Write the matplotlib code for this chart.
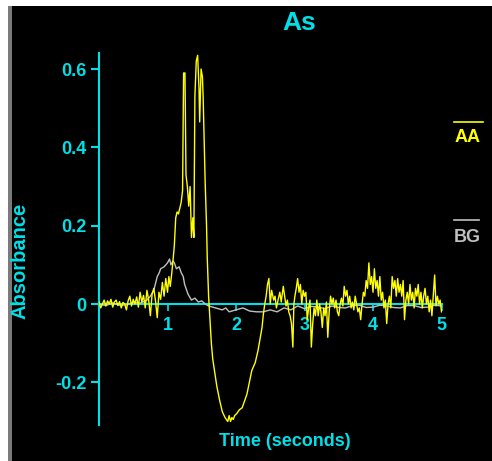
import matplotlib
matplotlib.use('Agg')
import matplotlib.pyplot as plt
from matplotlib.patches import Rectangle
from matplotlib.lines import Line2D

plt.rcParams['font.family'] = ['Liberation Sans', 'DejaVu Sans']

CYAN = '#00e0e8'
YELLOW = '#ffff00'
GRAY = '#c0c0c0'

# AA trace (time in seconds, absorbance)
aa_t = [0.00, 0.025, 0.05, 0.075, 0.10, 0.125, 0.15, 0.175, 0.20, 0.225,
        0.25, 0.275, 0.30, 0.325, 0.35, 0.375, 0.40, 0.425, 0.45, 0.475,
        0.50, 0.525, 0.55, 0.575, 0.60, 0.625, 0.65, 0.675, 0.70, 0.725,
        0.75, 0.775, 0.80, 0.825, 0.85, 0.875, 0.90, 0.925, 0.95, 0.975,
        1.00, 1.02, 1.04, 1.06, 1.08, 1.10, 1.12, 1.14, 1.16, 1.18,
        1.20, 1.22, 1.235, 1.255, 1.27, 1.29, 1.31, 1.33, 1.35, 1.37,
        1.385, 1.40, 1.42, 1.44, 1.46, 1.47, 1.49, 1.51, 1.52, 1.54,
        1.55, 1.57, 1.58, 1.60, 1.62, 1.64, 1.66, 1.69, 1.72, 1.76,
        1.80, 1.84, 1.86, 1.88, 1.90, 1.92, 1.94, 1.96, 1.98, 2.01,
        2.05, 2.09, 2.13, 2.16, 2.20, 2.23, 2.28, 2.32, 2.35, 2.38,
        2.40, 2.42, 2.44, 2.46, 2.48,
        2.50, 2.52, 2.55, 2.57, 2.59, 2.62, 2.64, 2.66, 2.69, 2.71,
        2.73, 2.75, 2.77, 2.79, 2.81, 2.83, 2.845, 2.86, 2.88, 2.90,
        2.92, 2.94, 2.96, 2.98, 3.00, 3.02, 3.04, 3.06, 3.08, 3.10,
        3.12, 3.14, 3.16, 3.18, 3.20, 3.22, 3.24, 3.26, 3.28, 3.30,
        3.32, 3.34, 3.36, 3.38, 3.40, 3.42, 3.44, 3.46, 3.48, 3.50,
        3.52, 3.54, 3.56, 3.58, 3.60, 3.62, 3.64, 3.66, 3.68, 3.70,
        3.72, 3.74, 3.76, 3.78, 3.80, 3.82, 3.84, 3.86, 3.88, 3.90,
        3.92, 3.94, 3.96, 3.98, 4.00, 4.02, 4.04, 4.06, 4.08, 4.10,
        4.12, 4.14, 4.16, 4.18, 4.20, 4.22, 4.24, 4.26, 4.28, 4.30,
        4.32, 4.34, 4.36, 4.38, 4.40, 4.42, 4.44, 4.46, 4.48, 4.50,
        4.52, 4.54, 4.56, 4.58, 4.60, 4.62, 4.64, 4.66, 4.68, 4.70,
        4.72, 4.74, 4.76, 4.78, 4.80, 4.82, 4.84, 4.86, 4.88, 4.90,
        4.92, 4.94, 4.96, 4.98, 5.00]
aa_v = [0.005, -0.01, 0.0, 0.01, -0.005, 0.008, 0.0, 0.012, -0.008, 0.005,
        0.01, -0.004, 0.006, -0.01, 0.004, 0.0, -0.015, 0.008, 0.02, -0.005,
        0.012, 0.0, 0.018, -0.008, 0.03, 0.005, 0.022, -0.01, 0.035, 0.01,
        -0.03, 0.025, 0.04, 0.008, -0.035, 0.03, 0.012, 0.055, 0.02, 0.065,
        0.03, 0.07, 0.045, 0.075, 0.11, 0.15, 0.22, 0.235, 0.23, 0.245,
        0.26, 0.29, 0.59, 0.59, 0.33, 0.30, 0.25, 0.30, 0.17, 0.22,
        0.17, 0.53, 0.62, 0.635, 0.55, 0.465, 0.60, 0.58, 0.53, 0.39,
        0.31, 0.20, 0.12, 0.02, -0.04, -0.10, -0.14, -0.175, -0.21, -0.245,
        -0.275, -0.29, -0.295, -0.30, -0.285, -0.30, -0.29, -0.295, -0.285, -0.28,
        -0.27, -0.265, -0.245, -0.23, -0.195, -0.17, -0.15, -0.12, -0.09, -0.06,
        -0.025, 0.0, 0.02, 0.05, 0.065,
        0.0, 0.035, 0.01, 0.02, -0.01, 0.015, 0.03, 0.005, 0.045, 0.02,
        -0.005, 0.01, -0.02, -0.03, -0.05, -0.11, 0.0, 0.02, 0.04, 0.065,
        0.03, 0.05, 0.0, 0.035, 0.02, 0.03, -0.04, -0.01, 0.01, -0.11,
        -0.05, -0.01, -0.03, 0.01, -0.03, 0.0, -0.02, -0.06, -0.01, -0.03,
        0.005, -0.085, -0.02, 0.02, 0.0, 0.015, -0.01, 0.01, -0.02, -0.03,
        0.0, 0.015, -0.005, 0.045, 0.02, 0.035, 0.0, 0.02, -0.01, 0.005,
        -0.015, 0.02, 0.0, -0.02, -0.01, -0.04, 0.0, 0.03, 0.02, 0.06,
        0.04, 0.105, 0.05, 0.07, 0.03, 0.09, 0.04, 0.06, 0.02, 0.07,
        0.01, 0.03, -0.01, 0.01, -0.05, 0.0, 0.02, -0.01, 0.07, 0.04,
        0.06, 0.02, 0.065, 0.03, 0.05, 0.02, 0.06, -0.04, 0.01, 0.03,
        0.0, 0.05, 0.01, 0.03, -0.01, 0.04, 0.02, 0.05, 0.0, 0.03,
        -0.01, 0.02, 0.04, 0.0, 0.02, -0.02, 0.01, -0.03, 0.02, 0.074,
        -0.005, 0.02, 0.0, 0.01, -0.02]

# BG trace
bg_t = [0.0, 0.1, 0.2, 0.3, 0.4, 0.5, 0.6, 0.7, 0.75, 0.8,
        0.85, 0.88, 0.9, 0.95, 1.0, 1.03, 1.05, 1.08, 1.1, 1.13,
        1.17, 1.2, 1.23, 1.25, 1.3, 1.35, 1.4, 1.45, 1.5, 1.55,
        1.6, 1.7, 1.8, 1.85, 1.9, 2.0, 2.1, 2.2, 2.3, 2.4,
        2.5, 2.6, 2.7, 2.8, 2.9, 3.0, 3.1, 3.2, 3.3, 3.4,
        3.5, 3.6, 3.7, 3.8, 3.9, 4.0, 4.1, 4.2, 4.3, 4.4,
        4.5, 4.6, 4.7, 4.8, 4.9, 5.0]
bg_v = [0.0, -0.004, 0.003, -0.003, -0.002, 0.004, 0.002, 0.01, 0.02, 0.035,
        0.07, 0.08, 0.09, 0.095, 0.105, 0.115, 0.10, 0.11, 0.105, 0.09,
        0.095, 0.08, 0.07, 0.05, 0.025, 0.01, 0.015, 0.005, 0.008, 0.0,
        -0.005, -0.01, -0.015, -0.01, -0.02, -0.015, -0.01, -0.018, -0.02, -0.02,
        -0.015, -0.02, -0.01, -0.015, -0.005, -0.012, -0.006, -0.008, -0.012, -0.005,
        -0.009, -0.01, -0.004, -0.003, -0.009, -0.008, -0.003, -0.005, -0.009, -0.01,
        -0.004, -0.004, -0.009, -0.008, -0.003, -0.005]

y_ticks = [-0.2, 0, 0.2, 0.4, 0.6]
y_tick_labels = ['-0.2', '0', '0.2', '0.4', '0.6']
x_ticks = [1, 2, 3, 4, 5]

W, H = 492, 461
fig = plt.figure(figsize=(W / 100, H / 100), dpi=100, facecolor='white')

# black panel with gray left edge
fig.patches.append(Rectangle((8 / W, 0), 4 / W, 1 - 6 / H, transform=fig.transFigure,
                             facecolor='#7a7a7a', edgecolor='none', zorder=-2))
fig.patches.append(Rectangle((12 / W, 0), 1, 1 - 6 / H, transform=fig.transFigure,
                             facecolor='black', edgecolor='none', zorder=-2))

ax = fig.add_axes([99 / W, 36 / H, 342.5 / W, 372 / H])
ax.set_zorder(1)
ax.set_facecolor('none')
ax.plot(bg_t, bg_v, color=GRAY, lw=1.0, zorder=2)
ax.plot(aa_t, aa_v, color=YELLOW, lw=1.0, zorder=3)

ax.set_xlim(0, 5)
ax.set_ylim(-0.309, 0.641)
for s in ['top', 'right']:
    ax.spines[s].set_visible(False)
ax.spines['bottom'].set_position(('data', 0))
ax.spines['bottom'].set_color(CYAN)
ax.spines['left'].set_color(CYAN)
ax.spines['bottom'].set_linewidth(1.5)
ax.spines['left'].set_linewidth(1.5)
ax.spines['bottom'].set_zorder(1)

ax.set_yticks(y_ticks)
ax.set_yticklabels(y_tick_labels)
ax.set_xticks(x_ticks)
ax.set_xticklabels([str(v) for v in x_ticks])
ax.tick_params(axis='y', colors=CYAN, length=6, width=1.5, pad=3, labelsize=13)
ax.tick_params(axis='x', colors=CYAN, length=5, width=1.2, pad=4, labelsize=13)
for lab in ax.get_xticklabels() + ax.get_yticklabels():
    lab.set_fontweight('bold')

fig.text(299 / W, 1 - 23 / H, 'As', color=CYAN, fontsize=19, fontweight='bold',
         ha='center', va='center')
fig.text(20 / W, 1 - 261 / H, 'Absorbance', color=CYAN, fontsize=14.5, fontweight='bold',
         rotation=90, ha='center', va='center')
fig.text(285 / W, 1 - 441 / H, 'Time (seconds)', color=CYAN, fontsize=13, fontweight='bold',
         ha='center', va='center')

# legend on the right
fig.lines.append(Line2D([454 / W, 483 / W], [1 - 122 / H, 1 - 122 / H],
                        transform=fig.transFigure, color=YELLOW, lw=1.2))
fig.text(468 / W, 1 - 137 / H, 'AA', color=YELLOW, fontsize=13, fontweight='bold',
         ha='center', va='center')
fig.lines.append(Line2D([454 / W, 479 / W], [1 - 220 / H, 1 - 220 / H],
                        transform=fig.transFigure, color=GRAY, lw=1.2))
fig.text(467 / W, 1 - 237 / H, 'BG', color=GRAY, fontsize=13, fontweight='bold',
         ha='center', va='center')

fig.savefig('out.png', dpi=100, facecolor='white')
